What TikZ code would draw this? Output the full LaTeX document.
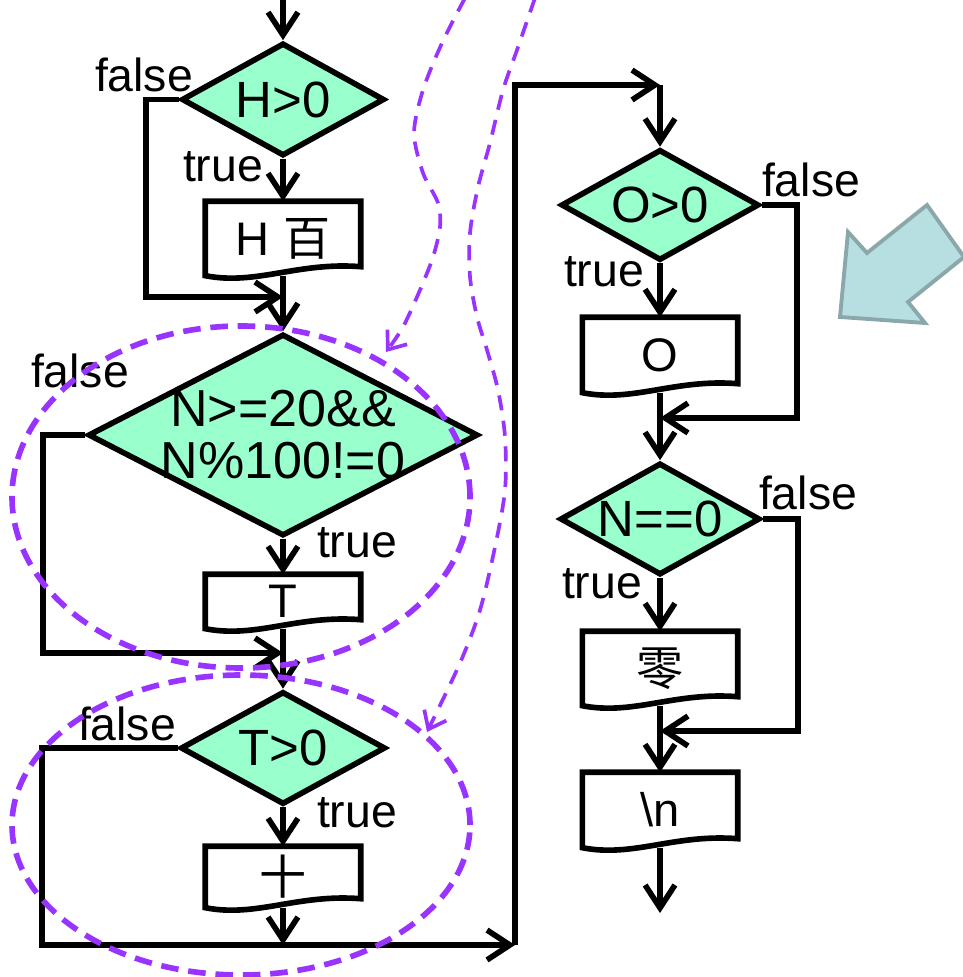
\documentclass[tikz,border=0pt]{standalone}
\usepackage{fontspec}
\setmainfont{Liberation Sans}
\newfontfamily\cjk{Noto Sans CJK SC}
\usetikzlibrary{shapes.geometric,arrows.meta,calc}
\definecolor{mint}{RGB}{153,255,204}
\definecolor{hintpurple}{RGB}{153,51,255}
\definecolor{bigfill}{RGB}{183,223,226}
\definecolor{bigline}{RGB}{138,168,170}

\begin{document}
\begin{tikzpicture}[
  >={Straight Barb[length=6.5pt,width=8.5pt]},
  flow/.style={line width=1.6pt},
  decision/.style={diamond, aspect=1.8, draw, line width=1.6pt, fill=mint, inner sep=0pt, minimum width=2.03cm, minimum height=1.13cm, font=\fontsize{14.5}{16}\selectfont},
  dtext/.style={align=center, inner sep=0pt, font=\fontsize{14.8}{14.8}\selectfont},
  docbox/.style={rectangle, minimum width=1.54cm, inner sep=0pt, font=\fontsize{13.4}{15}\selectfont},
  lbl/.style={anchor=base, inner sep=0pt, font=\fontsize{13.2}{15}\selectfont},
  ring/.style={draw=hintpurple, line width=1.6pt, dash pattern=on 5pt off 2.8pt},
  hint/.style={draw=hintpurple, line width=1.05pt, dash pattern=on 4.3pt off 3pt, -{Straight Barb[length=4.5pt,width=7pt]}}
]
\useasboundingbox (0,0) rectangle (9.62,-9.77);

% Left column
\coordinate (entry) at (2.83,0.05);
\node[decision] (hpos) at (2.83,-0.995) {H>0};
\node[docbox, minimum height=0.73cm] (hbox) at (2.83,-2.385) {H \cjk 百};
\coordinate (hjoin) at (2.83,-2.97);
\node[decision, minimum width=3.9cm, minimum height=2.02cm] (ndec) at (2.83,-4.35) {};
\node[dtext] (ndectxt) at (ndec) {N>=20\&\&\\N\%100!=0};
\node[docbox, minimum height=0.53cm] (tbox) at (2.83,-6.015) {T};
\coordinate (njoin) at (2.83,-6.53);
\node[decision, minimum width=2.05cm] (tdec) at (2.83,-7.48) {T>0};
\node[docbox, minimum height=0.60cm] (sbox) at (2.83,-8.77) {\cjk 十};
\coordinate (bjoin) at (2.83,-9.45);
\coordinate (rbot) at (5.15,-9.45);

% Right column
\coordinate (otop) at (6.60,-0.85);
\node[decision, minimum width=1.98cm, minimum height=1.11cm] (odec) at (6.60,-2.05) {O>0};
\node[docbox, minimum height=0.74cm] (obox) at (6.60,-3.55) {O};
\coordinate (ojoin) at (6.60,-4.18);
\node[decision, minimum width=2.0cm, minimum height=1.12cm] (zdec) at (6.60,-5.19) {N==0};
\node[docbox, minimum height=0.73cm] (zbox) at (6.60,-6.685) {\cjk 零};
\coordinate (zjoin) at (6.60,-7.31);
\node[docbox, minimum height=0.74cm] (nlbox) at (6.60,-8.10) {\textbackslash n};
\coordinate (stop) at (6.60,-9.13);

% Box outlines with wavy bottom
\foreach \b in {hbox,tbox,sbox,obox,zbox,nlbox}
  \draw[flow] (\b.south west) -- (\b.north west) -- (\b.north east) -- ($(\b.south east)+(0,0.09)$)
    .. controls ($(\b.south west)+(0.92,0.14)$) and ($(\b.south west)+(0.51,-0.10)$) .. (\b.south west) -- cycle;

% Labels
\node[lbl] (hfalse) at (1.44,-0.92) {false};
\node[lbl] (htrue) at (2.23,-1.82) {true};
\node[lbl] (nfalse) at (0.80,-3.88) {false};
\node[lbl] (ntrue) at (3.57,-5.58) {true};
\node[lbl] (tfalse) at (1.27,-7.40) {false};
\node[lbl] (ttrue) at (3.57,-8.27) {true};
\node[lbl] (ofalse) at (8.11,-1.97) {false};
\node[lbl] (otrue) at (6.04,-2.87) {true};
\node[lbl] (zfalse) at (8.08,-5.10) {false};
\node[lbl] (ztrue) at (6.02,-5.98) {true};

% Arrows
\draw[flow,->] (entry) -- (hpos.north);
\draw[flow,->] (hpos.south) -- (hbox.north);
\draw[flow,->] (hpos.west) -- ++(-0.33,0) |- (hjoin);
\draw[flow,->] (hbox.south) -- (ndec.north);
\draw[flow,->] (ndec.south) -- (tbox.north);
\draw[flow,->] (ndec.west) -- ++(-0.42,0) |- (njoin);
\draw[flow,->] (tbox.south) -- (tdec.north);
\draw[flow,->] (tdec.south) -- (sbox.north);
\draw[flow,->] (tdec.west) -- ++(-1.355,0) |- (rbot);
\draw[flow,->] (sbox.south) -- (bjoin);
\draw[flow,->] (rbot) |- (otop);
\draw[flow,->] (otop) -- (odec.north);
\draw[flow,->] (odec.south) -- (obox.north);
\draw[flow,->] (odec.east) -- ++(0.35,0) |- (ojoin);
\draw[flow,->] (obox.south) -- (zdec.north);
\draw[flow,->] (zdec.south) -- (zbox.north);
\draw[flow,->] (zdec.east) -- ++(0.35,0) |- (zjoin);
\draw[flow,->] (zbox.south) -- (nlbox.north);
\draw[flow,->] (nlbox.south) -- (stop);

% Big pointer
\draw[draw=bigline, fill=bigfill, line width=1.1pt] (9.27,-2.05) -- (8.67,-2.53) -- (8.48,-2.32) -- (8.40,-3.17)
  -- (9.25,-3.23) -- (9.08,-3.02) -- (9.64,-2.57) -- cycle;

% Purple hints
\draw[ring] (2.41,-4.97) ellipse [x radius=2.29, y radius=1.71];
\draw[ring] (2.41,-8.25) ellipse [x radius=2.29, y radius=1.50];
\draw[hint] plot[smooth] coordinates {(4.65,0.02) (4.42,-0.43) (4.23,-0.90) (4.14,-1.33) (4.23,-1.73) (4.38,-2.03) (4.40,-2.27) (4.33,-2.57) (4.20,-2.90) (4.03,-3.27) (3.86,-3.52)};
\draw[hint] plot[smooth] coordinates {(5.35,0.02) (5.17,-0.50) (5.03,-0.90) (4.90,-1.43) (4.78,-1.87) (4.70,-2.33) (4.70,-2.77) (4.77,-3.17) (4.87,-3.50) (4.98,-3.90) (5.05,-4.37) (5.05,-4.90) (4.95,-5.47) (4.80,-6.10) (4.60,-6.63) (4.27,-7.32)};

\end{tikzpicture}
\end{document}
